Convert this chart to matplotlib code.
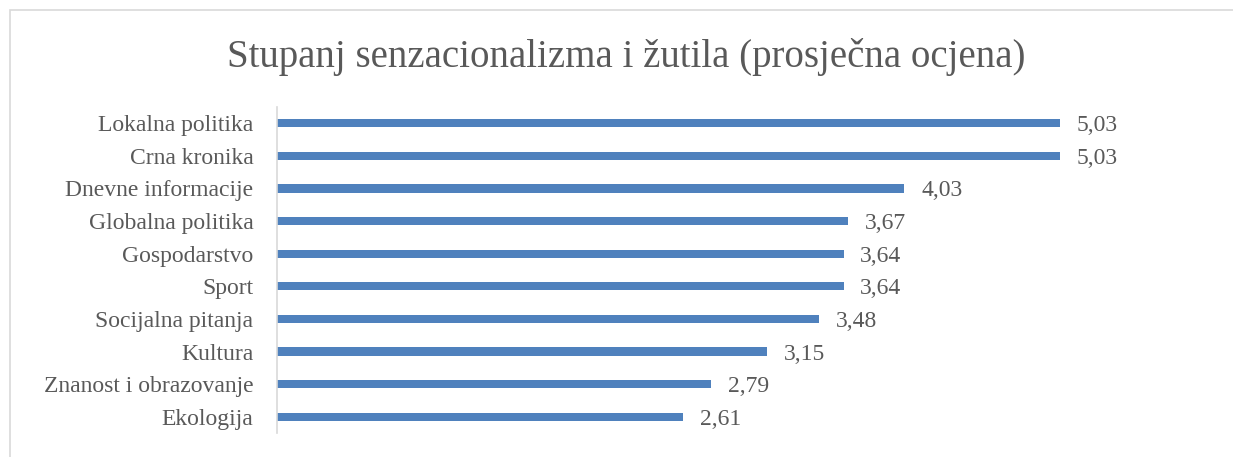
import matplotlib
matplotlib.use("Agg")
import matplotlib.pyplot as plt
from matplotlib.patches import Rectangle

categories = ["Lokalna politika", "Crna kronika", "Dnevne informacije",
              "Globalna politika", "Gospodarstvo", "Sport",
              "Socijalna pitanja", "Kultura", "Znanost i obrazovanje",
              "Ekologija"]
values = [5.03, 5.03, 4.03, 3.67, 3.64, 3.64, 3.48, 3.15, 2.79, 2.61]
title = "Stupanj senzacionalizma i žutila (prosječna ocjena)"

TEXT = "#595959"
BAR = "#4F81BD"
LINE = "#D9D9D9"
FONT = ["Liberation Serif", "DejaVu Serif"]

W, H = 1233, 457
fig = plt.figure(figsize=(W / 100, H / 100), dpi=100)
fig.patch.set_facecolor("white")

# chart frame
fig.patches.append(Rectangle((9.5 / W, -0.1), 2.0, (H - 10) / H + 0.1,
                             transform=fig.transFigure, fill=False,
                             edgecolor=LINE, linewidth=1.2, zorder=0))

ax = fig.add_axes([277 / W, (H - 433) / H, (1211 - 277) / W, (433 - 107) / H])

n = len(categories)
ypos = list(range(n))
ax.barh(ypos, values, height=0.25, color=BAR, zorder=2)
ax.set_ylim(n - 0.5, -0.5)
ax.set_xlim(0, 6)

ax.set_yticks(ypos)
ax.set_yticklabels(categories, fontfamily=FONT, fontsize=17, color=TEXT,
                   va="center_baseline")
ax.tick_params(axis="y", length=0, pad=17)
ax.set_xticks([])

for s in ["top", "right", "bottom"]:
    ax.spines[s].set_visible(False)
ax.spines["left"].set_color(LINE)
ax.spines["left"].set_linewidth(1.2)

for y, v in zip(ypos, values):
    ax.annotate(f"{v:.2f}".replace(".", ","), xy=(v, y), xytext=(12, 0),
                textcoords="offset points", va="center_baseline", ha="left",
                fontfamily=FONT, fontsize=17, color=TEXT)

fig.text(626 / W, 1 - 67 / H, title, ha="center", va="baseline",
         fontfamily=FONT, fontsize=28, color=TEXT)

fig.savefig("out.png", dpi=100)
